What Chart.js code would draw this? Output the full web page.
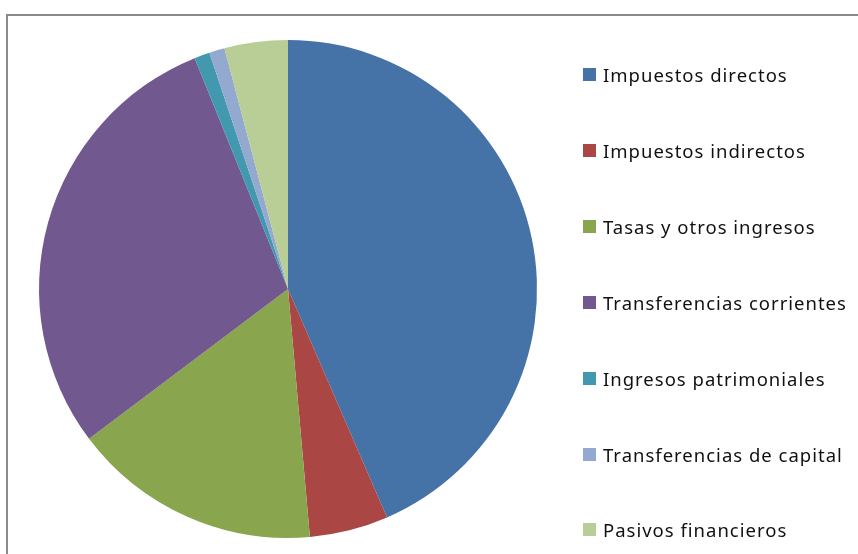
<!DOCTYPE html>
<html lang="es">
<head>
    <meta charset="UTF-8">
    <title>Ingresos</title>
    <script src="https://cdn.jsdelivr.net/npm/chart.js"></script>
    <style>
        html, body { margin: 0; padding: 0; background: #fff; overflow: hidden; }
        #wrap { position: relative; width: 858px; height: 554px; }
        #frame {
            position: absolute; left: 6px; top: 14px; width: 900px; height: 600px;
            border-left: 2px solid #8a8a8a; border-top: 2px solid #8a8a8a;
        }
        #myChart { position: absolute; left: 0; top: 0; }
        .item {
            position: absolute; left: 583px; height: 26px;
            display: flex; align-items: center;
            font-family: "Noto Sans", sans-serif; font-size: 18.5px;
            letter-spacing: 1px; color: #111; white-space: nowrap;
        }
        .item .box { width: 13px; height: 13px; margin-right: 7px; flex: none; }
    </style>
</head>
<body>
<div id="wrap">
    <div id="frame"></div>
    <canvas id="myChart" width="858" height="554"></canvas>
    <div id="legend"></div>
</div>
<script>
    // Chart data
    const labels = ['Impuestos directos', 'Impuestos indirectos', 'Tasas y otros ingresos',
        'Transferencias corrientes', 'Ingresos patrimoniales', 'Transferencias de capital',
        'Pasivos financieros'];
    const values = [43.4, 5.1, 16.1, 29.1, 1.0, 1.0, 4.1];
    const colors = ['#4572A7', '#AA4643', '#89A54E', '#71588F', '#4198AF', '#93A9CF', '#B9CD96'];

    const ctx = document.getElementById('myChart').getContext('2d');
    const myChart = new Chart(ctx, {
        type: 'pie',
        data: {
            labels: labels,
            datasets: [{
                data: values,
                backgroundColor: colors,
                borderWidth: 0
            }]
        },
        options: {
            responsive: false,
            animation: false,
            layout: { padding: { left: 39, right: 321, top: 40, bottom: 16 } },
            plugins: {
                legend: { display: false },
                tooltip: { enabled: false }
            }
        }
    });

    // legend on the right
    const legend = document.getElementById('legend');
    labels.forEach((lab, i) => {
        const div = document.createElement('div');
        div.className = 'item';
        div.style.top = (74.5 - 13 + i * 75.9) + 'px';
        div.innerHTML = '<span class="box" style="background:' + colors[i] + '"></span><span>' + lab + '</span>';
        legend.appendChild(div);
    });
</script>
</body>
</html>
